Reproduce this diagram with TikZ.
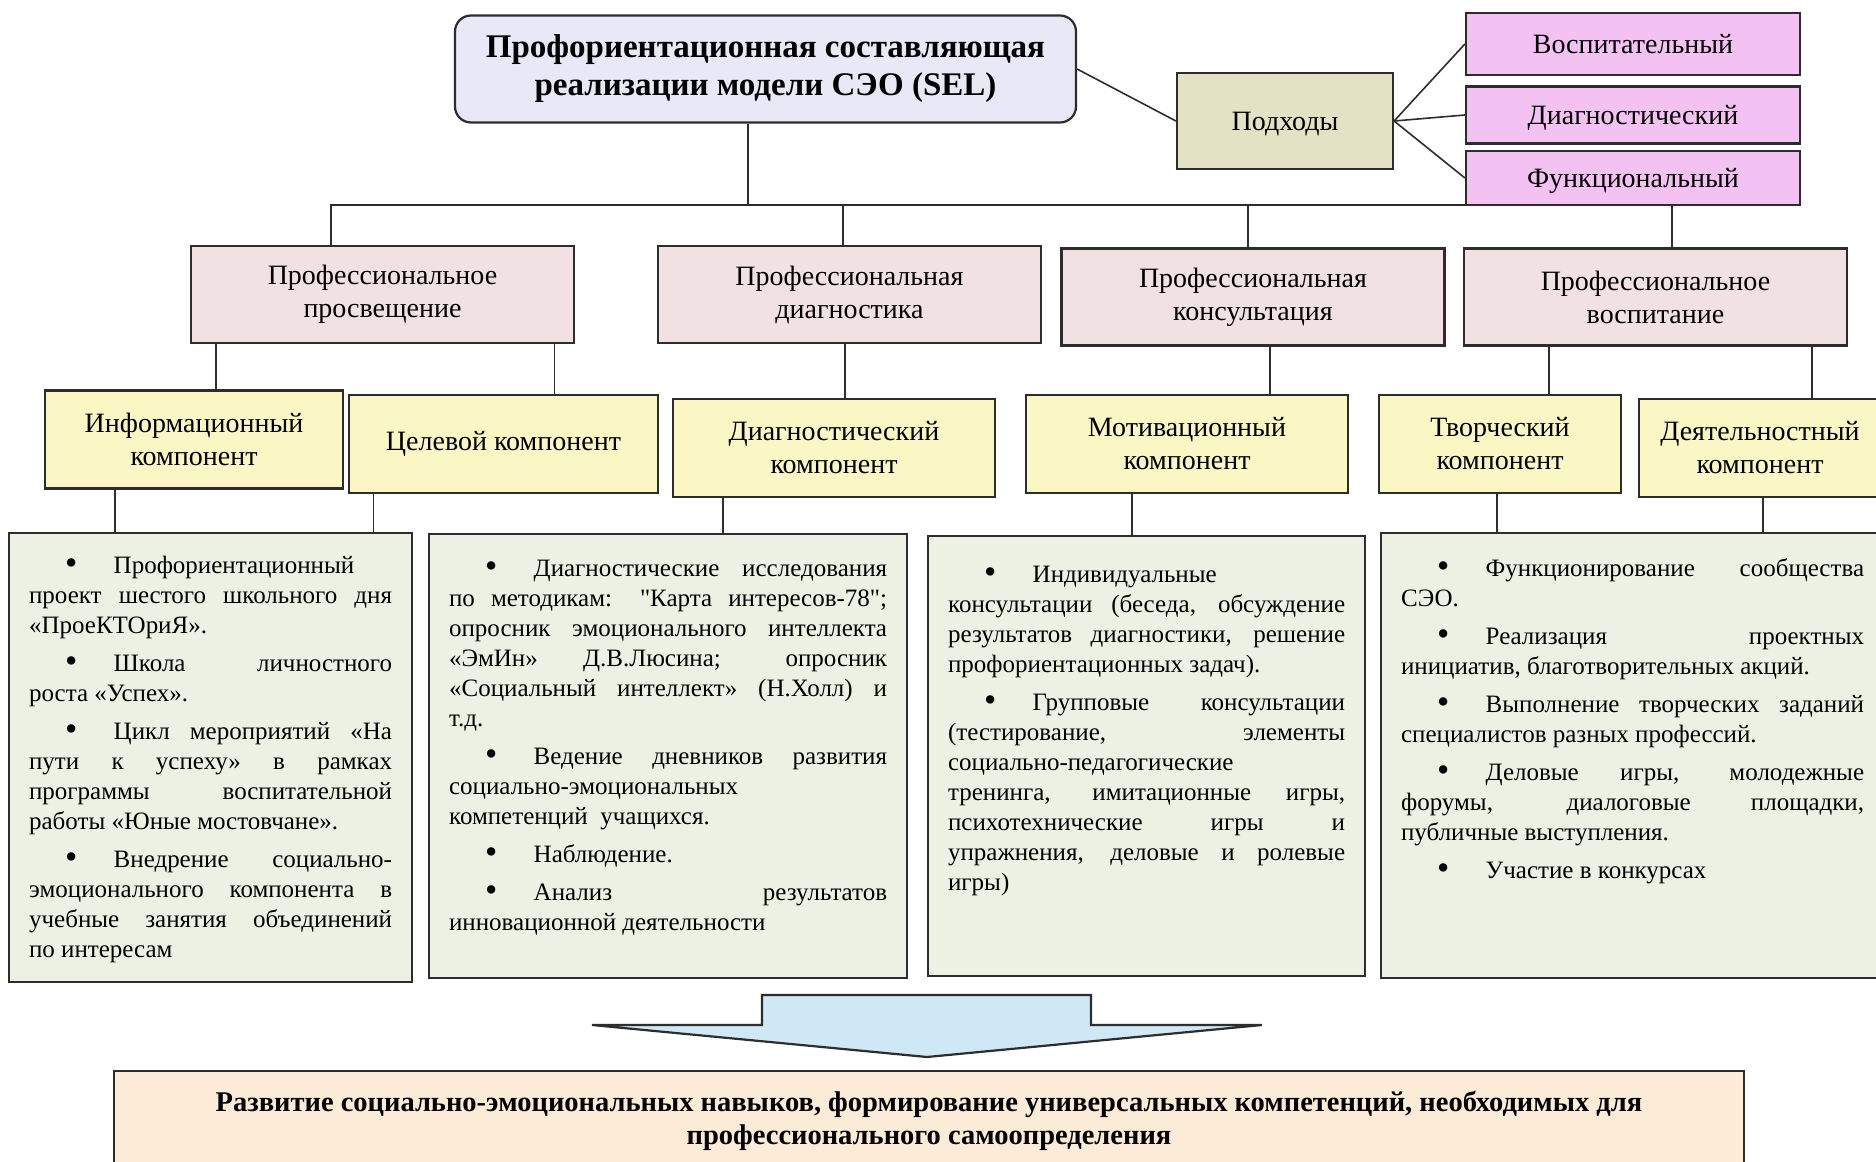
\documentclass[tikz,border=0pt]{standalone}
\usepackage{fontspec}
\setmainfont{Liberation Serif}
\newfontfamily\plainq{Liberation Serif}
\usepackage{xcolor}
\usetikzlibrary{arrows.meta,calc,positioning}
\definecolor{TitleLilac}{RGB}{233,232,247}
\definecolor{OliveBox}{RGB}{227,226,196}
\definecolor{Orchid}{RGB}{243,194,243}
\definecolor{PinkBox}{RGB}{242,225,227}
\definecolor{YellowBox}{RGB}{250,247,196}
\definecolor{GreenBox}{RGB}{237,241,227}
\definecolor{ArrowBlue}{RGB}{207,232,246}
\definecolor{PeachBox}{RGB}{251,235,215}
\definecolor{LineGray}{RGB}{45,45,45}
\tolerance=10000
\hbadness=10000
\hyphenpenalty=10000
\exhyphenpenalty=10000
\newcommand{\itm}{\par\noindent\hspace*{18pt}\makebox[24.3pt][l]{\raisebox{-0.6pt}{\fontsize{17.5}{15}\selectfont\textbullet}}}
\newcommand{\qq}{{\plainq"}}
\newcommand{\bodybox}[3]{\parbox[t][#2][t]{#1}{\fontsize{12.5}{15}\selectfont\setlength{\parskip}{4pt}\vspace*{0.5pt}#3}}

\begin{document}
\begin{tikzpicture}[x=0.5pt, y=-0.5pt,
	box/.style={draw=LineGray, line width=1.1pt, align=center, inner sep=2pt},
	titlebox/.style={box, fill=TitleLilac, rounded corners=8pt, minimum width=310.5pt, minimum height=53.5pt, font=\fontsize{16.5}{19}\selectfont\bfseries},
	apprbox/.style={box, fill=OliveBox, minimum width=108pt, minimum height=48pt, text depth=0pt, font=\fontsize{14}{16.5}\selectfont},
	kindbox/.style={box, fill=Orchid, minimum width=167pt, text depth=0pt, font=\fontsize{14}{16.5}\selectfont},
	dirbox/.style={box, fill=PinkBox, minimum width=191.5pt, minimum height=48.5pt, font=\fontsize{14}{16.5}\selectfont},
	compbox/.style={box, fill=YellowBox, minimum height=49pt, font=\fontsize{14}{16.5}\selectfont},
	textbox/.style={draw=LineGray, line width=1.1pt, fill=GreenBox, anchor=north west, inner xsep=10pt, inner ysep=7pt},
	resultbox/.style={box, fill=PeachBox, minimum width=815pt, minimum height=50pt, font=\fontsize{14.25}{16.75}\selectfont\bfseries},
	link/.style={draw=LineGray, line width=0.8pt}]
	\clip (0,0) rectangle (1876,1162);
	\fill[white] (0,0) rectangle (1876,1162);

	% 标题与方法
	\node[titlebox] (title) at (765.5,69) {Профориентационная составляющая\\реализации модели СЭО (SEL)};
	\node[apprbox] (appr) at (1285,121) {Подходы};
	\node[kindbox, minimum height=31pt] (vosp) at (1633,44) {Воспитательный};
	\node[kindbox, minimum height=28.5pt] (diagn) at (1633,115) {Диагностический};
	\node[kindbox, minimum height=27pt] (func) at (1633,178) {Функциональный};

	% 方向
	\node[dirbox] (pe) at (382.5,294.5) {Профессиональное\\просвещение};
	\node[dirbox] (pd) at (849.5,294.5) {Профессиональная\\диагностика};
	\node[dirbox] (pk) at (1253,297) {Профессиональная\\консультация};
	\node[dirbox] (pv) at (1655.5,297) {Профессиональное\\воспитание};

	% 组成部分
	\node[compbox, minimum width=149pt] (info) at (194,439.5) {Информационный\\компонент};
	\node[compbox, minimum width=154.5pt] (goal) at (503.5,444) {Целевой компонент};
	\node[compbox, minimum width=161pt] (diag) at (834,448) {Диагностический\\компонент};
	\node[compbox, minimum width=161pt] (motiv) at (1187,444) {Мотивационный\\компонент};
	\node[compbox, minimum width=121pt] (creat) at (1500,444) {Творческий\\компонент};
	\node[compbox, minimum width=121pt] (act) at (1760,448) {Деятельностный\\компонент};

	% 内容
	\node[textbox] (b1) at (8,532) {\bodybox{181.5pt}{210.5pt}{%
		\itm Профориентационный\newline
		проект шестого школьного дня\linebreak
		«ПроеКТОриЯ».
		\itm Школа личностного\linebreak
		роста «Успех».
		\itm Цикл мероприятий «На\linebreak
		пути к успеху» в рамках\linebreak
		программы воспитательной\linebreak
		работы «Юные мостовчане».
		\itm Внедрение социально-\linebreak
		эмоционального компонента в\linebreak
		учебные занятия объединений\linebreak
		по интересам}};
	\node[textbox] (b2) at (428,533) {\bodybox{219pt}{208pt}{%
		\vspace*{1.5pt}
		\itm Диагностические исследования\linebreak
		по методикам: \qq Карта интересов-78\qq;\linebreak
		опросник эмоционального интеллекта\linebreak
		«ЭмИн» Д.В.Люсина; опросник\linebreak
		«Социальный интеллект» (Н.Холл) и\linebreak
		т.д.
		\itm Ведение дневников развития\linebreak
		социально-эмоциональных\newline
		компетенций\ \ учащихся.
		\itm Наблюдение.
		\itm Анализ результатов\linebreak
		инновационной деятельности}};
	\node[textbox] (b3) at (927,535) {\bodybox{198.5pt}{206pt}{%
		\vspace*{3.5pt}
		\itm Индивидуальные\newline
		консультации (беседа, обсуждение\linebreak
		результатов диагностики, решение\linebreak
		профориентационных задач).
		\itm Групповые консультации\linebreak
		(тестирование, элементы\linebreak
		социально-педагогические\newline
		тренинга, имитационные игры,\linebreak
		психотехнические игры и\linebreak
		упражнения, деловые и ролевые\linebreak
		игры)}};
	\node[textbox] (b4) at (1380,532) {\bodybox{231.5pt}{208.5pt}{%
		\vspace*{1pt}
		\itm Функционирование сообщества\linebreak
		СЭО.
		\itm Реализация проектных\linebreak
		инициатив, благотворительных акций.
		\itm Выполнение творческих заданий\linebreak
		специалистов разных профессий.
		\itm Деловые игры, молодежные\linebreak
		форумы, диалоговые площадки,\linebreak
		публичные выступления.
		\itm Участие в конкурсах}};

	% 结果
	\draw[draw=LineGray, line width=1.1pt, fill=ArrowBlue] (762,995) -- (1091,995) -- (1091,1025) -- (1262,1025) -- (927,1057) -- (592,1025) -- (762,1025) -- cycle;
	\node[resultbox] (res) at (929,1121) {Развитие социально-эмоциональных навыков, формирование универсальных компетенций, необходимых для\\профессионального самоопределения};

	% 连线
	\draw[link] (title.east) -- (appr.west);
	\foreach \k in {vosp,diagn,func}
		\draw[link] (appr.east) -- (\k.west);
	\coordinate (hub) at (748,205);
	\draw[link] (title.south -| hub) -- (hub);
	\foreach \n/\s in {pe/-25.75pt,pd/-3.25pt,pk/-2.5pt,pv/8.25pt}
		\draw[link] ([xshift=\s]\n.north) |- (hub);
	\foreach \c/\p/\s in {info/pe/11pt,goal/pe/25.5pt,diag/pd/5.5pt,motiv/pk/41.5pt,creat/pv/24.5pt,act/pv/26pt}
		\draw[link] ([xshift=\s]\c.north) -- ([xshift=\s]\c.north |- \p.south);
	\foreach \c/\b/\s in {info/b1/-39.5pt,goal/b1/-65pt,diag/b2/-55.5pt,motiv/b3/-27.5pt,creat/b4/-1.5pt,act/b4/1.5pt}
		\draw[link] ([xshift=\s]\c.south) -- ([xshift=\s]\c.south |- \b.north);
\end{tikzpicture}
\end{document}
